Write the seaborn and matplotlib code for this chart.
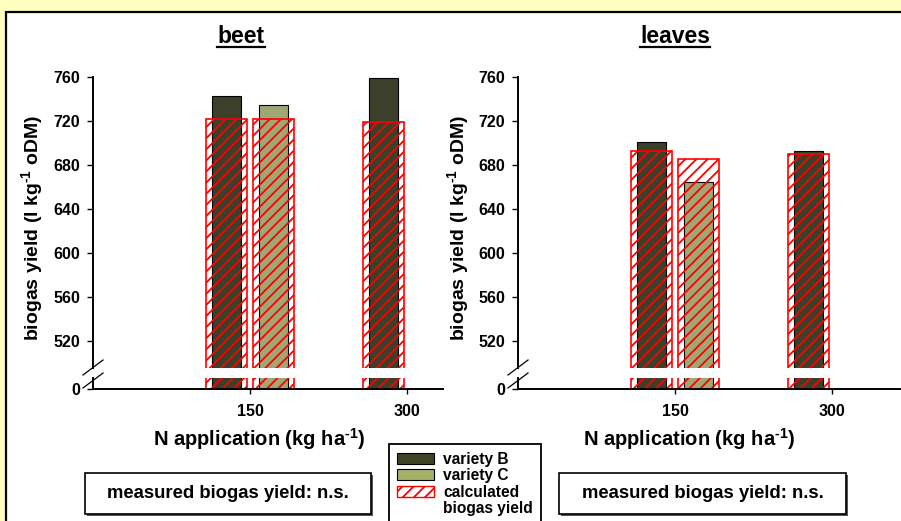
import numpy as np
import pandas as pd
import matplotlib
matplotlib.use("Agg")
import matplotlib.pyplot as plt
import seaborn as sns
from matplotlib.patches import Rectangle, Patch
from matplotlib.lines import Line2D

# ---------------- data ----------------
n_levels = [150, 150, 300]
variety = ["B", "C", "B"]
beet_measured = [743, 735, 759.5]
beet_calculated = [721.5, 721.5, 719.5]
leaves_measured = [700.5, 665, 692.5]
leaves_calculated = [693, 685.5, 690]
panel_titles = ["beet", "leaves"]
y_ticks = [520, 560, 600, 640, 680, 720, 760]
x_ticks = [150, 300]
legend_labels = ["variety B", "variety C", "calculated", "biogas yield"]
x_label = r"N application (kg ha$^{\text{-1}}$)"
y_label = r"biogas yield (l kg$^{\text{-1}}$ oDM)"
note_text = "measured biogas yield: n.s."

# ---------------- style ----------------
plt.rcParams["font.family"] = ["Liberation Sans", "DejaVu Sans"]
plt.rcParams["font.weight"] = "bold"
plt.rcParams["mathtext.fontset"] = "custom"
plt.rcParams["mathtext.rm"] = "Liberation Sans:bold"
plt.rcParams["mathtext.bf"] = "Liberation Sans:bold"
plt.rcParams["mathtext.it"] = "Liberation Sans:bold"
plt.rcParams["mathtext.default"] = "rm"
plt.rcParams["hatch.linewidth"] = 1.3

col_B = "#3E4426"
col_C = "#A6B06B"
col_calc = "red"
bg_yellow = "#FFFFBF"
hatch_pattern = "///"

W, H = 901, 521
fig = plt.figure(figsize=(W / 100, H / 100), dpi=100, facecolor=bg_yellow)


def fx(px):
    return px / W


def fy(py):
    return 1 - py / H


# white inner panel
fig.add_artist(Rectangle((fx(6), fy(600)), 1.2, fy(12) - fy(600),
                         transform=fig.transFigure, fc="white", ec="black",
                         lw=1.6, zorder=-1))

panels = [(93, 443), (518, 900)]
datasets = [(beet_measured, beet_calculated), (leaves_measured, leaves_calculated)]
px_per_x = 157 / 150.0
px_per_y = 1.1
top_px, split_top, split_bot, zero_px = 77, 368, 378, 389

for (x0, x1), (meas, calc) in zip(panels, datasets):
    df = pd.DataFrame({"N": n_levels, "variety": variety,
                       "measured": meas, "calculated": calc})
    w = fx(x1) - fx(x0)
    ax_top = fig.add_axes([fx(x0), fy(split_top), w, fy(top_px) - fy(split_top)])
    ax_bot = fig.add_axes([fx(x0), fy(zero_px), w, fy(split_bot) - fy(zero_px)])
    for ax in (ax_top, ax_bot):
        ax.set_facecolor("none")
        n0 = len(ax.patches)
        sns.barplot(data=df, x="N", y="measured", hue="variety",
                    hue_order=["B", "C"], palette={"B": col_B, "C": col_C},
                    native_scale=True, width=0.6, gap=0.38, dodge=True,
                    errorbar=None, legend=False, ax=ax)
        for p in ax.patches[n0:]:
            p.set_edgecolor("black")
            p.set_linewidth(0.8)
            p.set_zorder(1)
        n1 = len(ax.patches)
        sns.barplot(data=df, x="N", y="calculated", hue="variety",
                    hue_order=["B", "C"], palette={"B": col_calc, "C": col_calc},
                    native_scale=True, width=0.6, gap=0.14, dodge=True,
                    errorbar=None, legend=False, ax=ax)
        for p in ax.patches[n1:]:
            p.set_facecolor("none")
            p.set_edgecolor(col_calc)
            p.set_hatch(hatch_pattern)
            p.set_linewidth(1.2)
            p.set_zorder(2)
        ax.set_xlim(0, (x1 - x0) / px_per_x)
        ax.set_xlabel("")
        ax.set_ylabel("")
        ax.spines["top"].set_visible(False)
        ax.spines["right"].set_visible(False)
        ax.spines["left"].set_linewidth(1.4)
        ax.spines["bottom"].set_linewidth(1.4)
    # upper part
    ax_top.set_ylim(760 - (split_top - top_px) / px_per_y, 760)
    ax_top.spines["bottom"].set_visible(False)
    ax_top.set_yticks(y_ticks)
    ax_top.set_xticks([])
    ax_top.tick_params(axis="y", direction="out", length=4.3, width=1.0,
                       labelsize=11.5, pad=5)
    # lower part
    ax_bot.set_ylim(0, (zero_px - split_bot) / px_per_y)
    ax_bot.set_yticks([0])
    ax_bot.set_xticks(x_ticks)
    ax_bot.tick_params(axis="y", direction="out", length=4.3, width=1.0,
                       labelsize=11.5, pad=5)
    ax_bot.tick_params(axis="x", direction="out", length=3.6, width=1.0,
                       labelsize=11.5, pad=7)
    # break marks
    for (a, b, c, d) in [(83, 375, 103, 360), (83, 388, 103, 373)]:
        dx = x0 - 93
        fig.add_artist(Line2D([fx(a + dx), fx(c + dx)], [fy(b), fy(d)],
                              transform=fig.transFigure, color="black", lw=0.9))

# axis labels
for xc in (32, 458):
    fig.text(fx(xc), fy(228), y_label, rotation=90, ha="center", va="center",
             fontsize=14)
for xc in (259, 689):
    fig.text(fx(xc), fy(439), x_label, ha="center", va="center", fontsize=14.5)

# titles with underline
titles = []
for xc, t in zip((241, 675), panel_titles):
    titles.append(fig.text(fx(xc), fy(43), t, ha="center", va="baseline",
                           fontsize=16.5))

# note boxes
for (bx0, bx1) in [(85, 371), (559, 846)]:
    fig.add_artist(Rectangle((fx(bx0 + 1.5), fy(515.5)), fx(bx1) - fx(bx0), fy(473) - fy(514),
                             transform=fig.transFigure, fc="#555555", ec="none",
                             zorder=0.5))
    fig.add_artist(Rectangle((fx(bx0), fy(514)), fx(bx1) - fx(bx0), fy(473) - fy(514),
                             transform=fig.transFigure, fc="white", ec="black",
                             lw=1.2, zorder=1))
    fig.text(fx((bx0 + bx1) / 2), fy(493.5), note_text, ha="center", va="center",
             fontsize=13.3, zorder=2)

# legend
handles = [Patch(fc=col_B, ec="black", lw=0.8),
           Patch(fc=col_C, ec="black", lw=0.8),
           Patch(fc="none", ec=col_calc, hatch=hatch_pattern, lw=1.0),
           Patch(fc="none", ec="none")]
leg = fig.legend(handles, legend_labels, loc="upper left",
                 bbox_to_anchor=(fx(389), fy(444)), bbox_transform=fig.transFigure,
                 borderaxespad=0, frameon=True, fancybox=False, edgecolor="black",
                 framealpha=1, fontsize=11.2, handlelength=2.4, handleheight=0.7,
                 handletextpad=0.6, labelspacing=0.1, borderpad=0.5)
leg.get_frame().set_linewidth(1.3)

fig.canvas.draw()
r = fig.canvas.get_renderer()
for t in titles:
    bb = t.get_window_extent(r)
    fig.add_artist(Line2D([bb.x0 / W, bb.x1 / W], [fy(47), fy(47)],
                          transform=fig.transFigure, color="black", lw=1.6))

fig.savefig("out.png", dpi=100, facecolor=fig.get_facecolor())
